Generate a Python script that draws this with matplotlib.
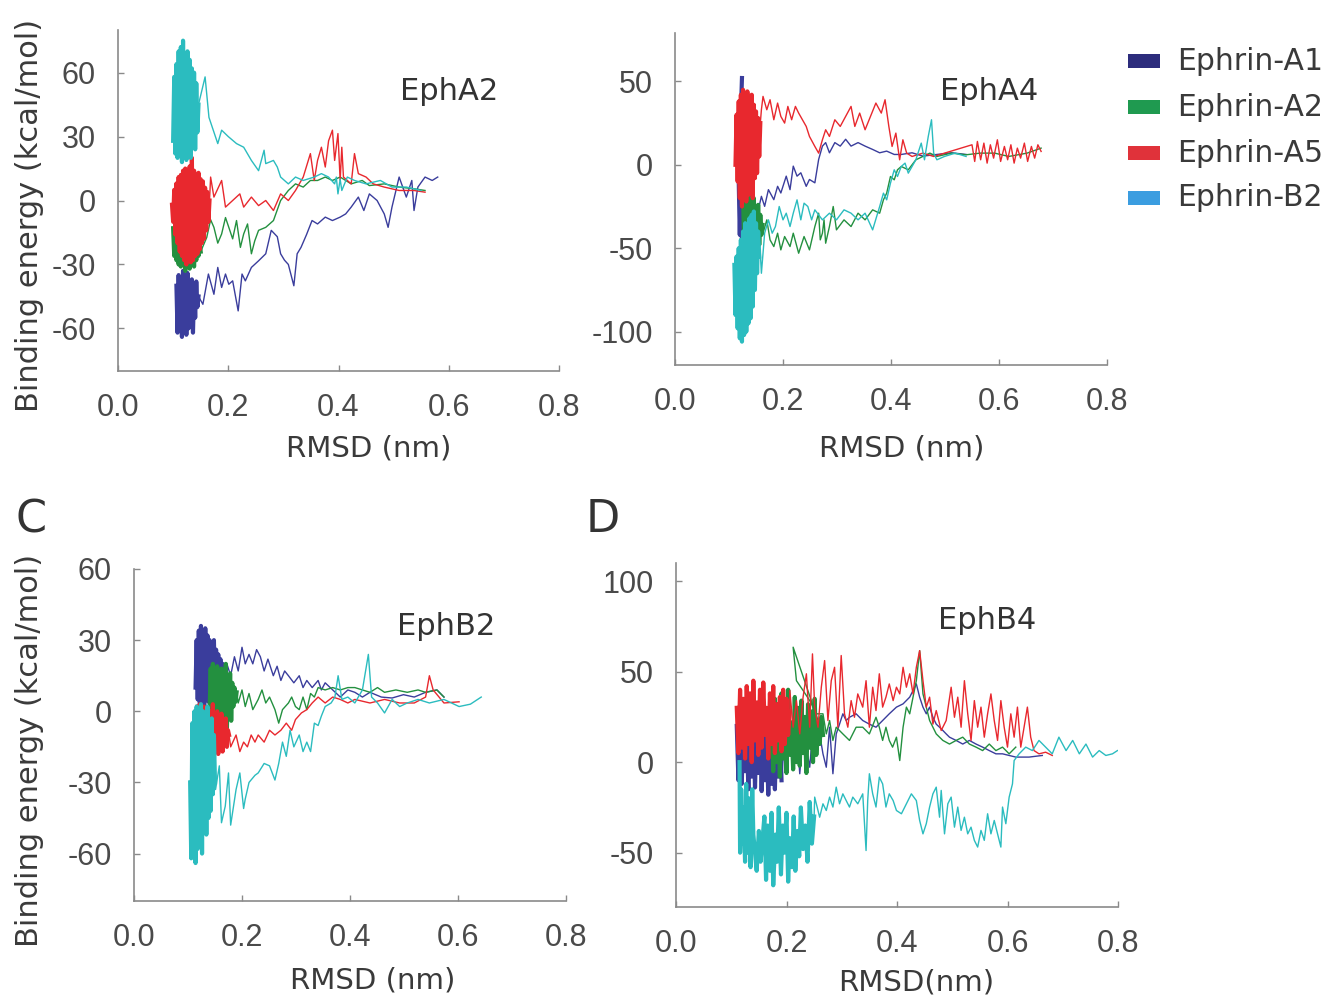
import matplotlib
matplotlib.use("Agg")
import matplotlib.pyplot as plt
from matplotlib.patches import Rectangle

plt.rcParams["font.family"] = "DejaVu Sans"
plt.rcParams["axes.unicode_minus"] = False

# ---------------- data: (RMSD nm, energy kcal/mol) ----------------
# dense early part of each run ("core") and the later trail

# EphA2
epha2_a1_core_x = [0.106, 0.108, 0.110, 0.112, 0.114, 0.116, 0.118, 0.120, 0.122, 0.124, 0.126, 0.128, 0.130, 0.132,
                   0.134, 0.136, 0.138, 0.140, 0.142, 0.144, 0.146]
epha2_a1_core_y = [-40, -62, -35, -60, -38, -64, -33, -58, -36, -63, -34, -60, -40, -57,
                   -37, -62, -42, -55, -38, -50, -45]
epha2_a1_x = [0.154, 0.164, 0.174, 0.181, 0.188, 0.195, 0.201, 0.208, 0.218, 0.225, 0.231, 0.242, 0.255, 0.268, 0.278,
              0.289, 0.295, 0.302, 0.309, 0.319, 0.325, 0.332, 0.342, 0.352, 0.362, 0.376, 0.389, 0.403, 0.413, 0.423,
              0.436, 0.446, 0.456, 0.470, 0.483, 0.490, 0.497, 0.510, 0.523, 0.533, 0.537, 0.544, 0.557, 0.570, 0.580]
epha2_a1_y = [-48.7, -34.5, -44, -31.4, -40.8, -34.5, -39.3, -37.7, -51.8, -34.5, -37.7, -31.4, -28.3, -25, -14,
              -17, -25, -28, -30, -40, -25, -22, -16, -9.4, -11, -7.8, -9.4, -7.8, -6.3, -3.1,
              1.6, -4.7, 3.1, 0, -6.3, -12.6, -3.1, 11, 1.6, 9.4, -4.7, 6.3, 11, 9.4, 11]

epha2_a2_core_x = [0.100, 0.102, 0.104, 0.106, 0.108, 0.110, 0.112, 0.114, 0.116, 0.118, 0.120, 0.122, 0.124, 0.126,
                   0.128, 0.130, 0.132, 0.134, 0.136, 0.138, 0.140, 0.142, 0.144, 0.146, 0.148, 0.150]
epha2_a2_core_y = [-13, -26, -15, -28, -12, -30, -17, -31, -14, -29, -16, -33, -13, -30,
                   -18, -32, -15, -27, -19, -31, -14, -28, -17, -26, -20, -24]
epha2_a2_x = [0.161, 0.168, 0.174, 0.181, 0.188, 0.195, 0.201, 0.208, 0.215, 0.222, 0.228, 0.235, 0.242, 0.248, 0.255,
              0.268, 0.282, 0.295, 0.309, 0.322, 0.336, 0.349, 0.362, 0.376, 0.389, 0.403, 0.423, 0.443, 0.456, 0.483,
              0.510, 0.537, 0.557]
epha2_a2_y = [-17.3, -9, -12.6, -20, -15.7, -8, -12.6, -18, -9.4, -22, -15.7, -11, -25, -19, -14,
              -12.6, -9.4, 0, 4.7, 7.8, 6.3, 9.4, 9.4, 11, 9.4, 11, 7.8, 9.4, 7, 7.8,
              6.3, 5.5, 4.7]

epha2_a5_core_x = [0.098, 0.100, 0.102, 0.104, 0.106, 0.108, 0.110, 0.112, 0.114, 0.116, 0.118, 0.120, 0.122, 0.124,
                   0.126, 0.128, 0.130, 0.132, 0.134, 0.136, 0.138, 0.140, 0.142, 0.144, 0.146, 0.148, 0.150, 0.152,
                   0.154, 0.156, 0.158, 0.160, 0.162, 0.164, 0.166]
epha2_a5_core_y = [-2, -10, 5, -16, 8, -20, 11, -24, 12, -26, 14, -28, 15, -30,
                   13, -27, 16, -29, 20, -28, 14, -26, 12, -25, 13, -23, 10, -20,
                   9, -18, 6, -14, 4, -10, 0]
epha2_a5_x = [0.168, 0.174, 0.188, 0.195, 0.208, 0.221, 0.228, 0.242, 0.255, 0.268, 0.282, 0.295, 0.309, 0.322, 0.336,
              0.349, 0.356, 0.362, 0.369, 0.376, 0.382, 0.389, 0.393, 0.399, 0.403, 0.406, 0.409, 0.423, 0.429, 0.436,
              0.450, 0.463, 0.483, 0.510, 0.537, 0.557]
epha2_a5_y = [11, 1.6, 9.4, -3.1, 0, 3.1, -3.1, 1.6, -2.4, 0, -4.7, 3.1, 0, 4.7, 11,
              22, 9.4, 18.8, 25, 15.7, 28, 33, 18.8, 31.4, 9.4, 25, 11, 7.8, 22, 12.6,
              11, 7.8, 6.3, 4.7, 4.7, 3.9]

epha2_b2_core_x = [0.100, 0.102, 0.104, 0.106, 0.108, 0.110, 0.112, 0.114, 0.116, 0.118, 0.120, 0.122, 0.124, 0.126,
                   0.128, 0.130, 0.132, 0.134, 0.136, 0.138, 0.140, 0.142, 0.144, 0.146]
epha2_b2_core_y = [28, 58, 22, 64, 20, 70, 24, 72, 18, 75, 22, 68, 19, 70,
                   25, 66, 20, 62, 28, 60, 24, 55, 32, 45]
epha2_b2_x = [0.158, 0.165, 0.181, 0.188, 0.200, 0.215, 0.228, 0.242, 0.255, 0.265, 0.268, 0.282, 0.289, 0.295, 0.309,
              0.322, 0.336, 0.356, 0.369, 0.382, 0.393, 0.396, 0.399, 0.403, 0.406, 0.416, 0.429, 0.450, 0.476, 0.497,
              0.523, 0.550]
epha2_b2_y = [58, 39, 26.7, 33, 30, 26.7, 25, 18.8, 14, 23.6, 17.3, 18.8, 15.7, 11, 7.8,
              11, 9.4, 11, 12.6, 11, 7.8, 11, 3.1, 10, 4.7, 11, 9.4, 7.8, 9.4, 6.3,
              6.3, 4.7]

# EphA4
epha4_a1_core_x = [0.124, 0.118, 0.120, 0.122, 0.124, 0.126, 0.128, 0.130, 0.132, 0.134, 0.136]
epha4_a1_core_y = [52, -10, -42, -8, -45, -12, -40, -15, -44, -20, -30]
epha4_a1_x = [0.153, 0.160, 0.166, 0.173, 0.183, 0.190, 0.196, 0.206, 0.213, 0.219, 0.226, 0.233, 0.243, 0.249, 0.259,
              0.266, 0.273, 0.279, 0.286, 0.296, 0.306, 0.316, 0.326, 0.339, 0.352, 0.366, 0.379, 0.392, 0.406, 0.419,
              0.439, 0.459, 0.485, 0.512, 0.539]
epha4_a1_y = [-28.9, -18.9, -24.9, -14.9, -20.9, -12.9, -16.9, -6.8, -14.9, -0.8, -6.8, -4.8, -12.9, -8.8, -10.8,
              3.2, 11.2, 13.3, 7.2, 13.3, 11.2, 15.3, 11.2, 13.3, 11.2, 9.2, 7.2, 8.2, 6.2, 6.2,
              7.2, 5.2, 6.2, 7.2, 6.2]

epha4_a2_core_x = [0.126, 0.128, 0.130, 0.132, 0.134, 0.136, 0.138, 0.140, 0.142, 0.144, 0.146, 0.148, 0.150, 0.152,
                   0.154, 0.156, 0.158, 0.160, 0.162]
epha4_a2_core_y = [-18, -48, -15, -52, -22, -55, -16, -50, -25, -54, -20, -45, -28, -52,
                   -24, -48, -30, -42, -36]
epha4_a2_x = [0.163, 0.170, 0.176, 0.183, 0.190, 0.196, 0.203, 0.213, 0.219, 0.229, 0.239, 0.249, 0.259, 0.266, 0.269,
              0.273, 0.276, 0.279, 0.286, 0.293, 0.299, 0.313, 0.326, 0.339, 0.352, 0.366, 0.379, 0.386, 0.392, 0.399,
              0.406, 0.412, 0.419, 0.432, 0.446, 0.459, 0.472, 0.485, 0.512, 0.539, 0.565, 0.592, 0.618, 0.652, 0.678]
epha4_a2_y = [-41, -33, -45, -49, -41, -51, -43, -49, -41, -53, -43, -51, -37, -29, -45,
              -41, -33, -47, -37, -25, -39, -33, -37, -29, -33, -27, -29, -21, -17, -7,
              -9, -3, -1, -3, 3, 5, 7, 5, 7, 6, 7, 7, 5, 7, 10]

epha4_a5_core_x = [0.112, 0.114, 0.116, 0.118, 0.120, 0.122, 0.124, 0.126, 0.128, 0.130, 0.132, 0.134, 0.136, 0.138,
                   0.140, 0.142, 0.144, 0.146, 0.148, 0.150, 0.152, 0.154, 0.156, 0.158]
epha4_a5_core_y = [0, 30, -10, 38, -20, 42, -25, 45, -15, 40, -22, 44, -18, 38,
                   -12, 42, -20, 36, -8, 32, -5, 28, 5, 25]
epha4_a5_x = [0.160, 0.163, 0.170, 0.176, 0.183, 0.190, 0.196, 0.203, 0.209, 0.216, 0.223, 0.229, 0.236, 0.243, 0.249,
              0.259, 0.266, 0.273, 0.279, 0.286, 0.296, 0.306, 0.316, 0.326, 0.333, 0.342, 0.352, 0.362, 0.372, 0.382,
              0.389, 0.396, 0.402, 0.409, 0.416, 0.422, 0.429, 0.439, 0.459, 0.479,
              0.550, 0.555, 0.560, 0.566, 0.572, 0.578, 0.584, 0.590, 0.597, 0.603, 0.610, 0.616, 0.622, 0.628, 0.634,
              0.640, 0.647, 0.653, 0.660, 0.666, 0.672, 0.678]
epha4_a5_y = [33, 41, 33, 39, 27, 37, 29, 25, 35, 27, 35, 31, 27, 23, 17,
              11, 7, 15, 21, 17, 27, 23, 29, 35, 23, 31, 21, 29, 37, 31,
              39, 23, 11, 19, 3, 15, 7, 5, 7, 5,
              12, 2, 14, 3, 13, 1, 12, 4, 15, 2, 11, 3, 12, 1, 10,
              4, 13, 2, 11, 4, 12, 8]

epha4_b2_core_x = [0.110, 0.112, 0.114, 0.116, 0.118, 0.120, 0.122, 0.124, 0.126, 0.128, 0.130, 0.132, 0.134, 0.136,
                   0.138, 0.140, 0.142, 0.144, 0.146, 0.148, 0.150, 0.152, 0.154, 0.156]
epha4_b2_core_y = [-60, -90, -55, -98, -50, -104, -45, -106, -40, -102, -35, -100, -38, -95,
                   -32, -92, -30, -85, -28, -75, -35, -65, -40, -55]
epha4_b2_x = [0.158, 0.160, 0.166, 0.173, 0.180, 0.186, 0.193, 0.200, 0.206, 0.213, 0.219, 0.226, 0.233, 0.239, 0.246,
              0.253, 0.259, 0.273, 0.286, 0.299, 0.313, 0.326, 0.339, 0.352, 0.366, 0.379, 0.386, 0.392, 0.399, 0.406,
              0.412, 0.419, 0.426, 0.432, 0.446, 0.456, 0.462, 0.469, 0.475, 0.479, 0.485, 0.499, 0.519, 0.539]
epha4_b2_y = [-53, -65, -41, -33, -41, -37, -25, -33, -29, -37, -29, -21, -33, -23, -25,
              -33, -27, -33, -29, -33, -27, -29, -33, -29, -39, -25, -17, -21, -11, -3,
              -7, -1, 1, -5, 3, 13, 3, 17, 27, 7, 3, 5, 7, 5]

# EphB2
ephb2_a1_core_x = [0.114, 0.116, 0.118, 0.120, 0.122, 0.124, 0.126, 0.128, 0.130, 0.132, 0.134, 0.136, 0.138, 0.140,
                   0.142, 0.144, 0.146, 0.148, 0.150, 0.152, 0.154, 0.156, 0.158, 0.160, 0.162, 0.164, 0.166, 0.168]
ephb2_a1_core_y = [10, 30, 5, 34, 3, 36, 6, 33, 2, 35, 8, 32, 4, 30,
                   10, 28, 5, 30, 8, 26, 6, 24, 12, 22, 10, 20, 14, 18]
ephb2_a1_x = [0.172, 0.179, 0.186, 0.193, 0.200, 0.206, 0.213, 0.220, 0.227, 0.234, 0.241, 0.248, 0.258, 0.265, 0.272,
              0.279, 0.286, 0.296, 0.306, 0.313, 0.320, 0.330, 0.341, 0.347, 0.354, 0.368, 0.382, 0.396, 0.409, 0.423,
              0.437, 0.458, 0.478, 0.499, 0.519, 0.540, 0.561, 0.574]
ephb2_a1_y = [20, 15, 23, 17, 27, 20, 24, 20, 26, 23, 17, 22, 15, 19, 13,
              17, 15, 12, 15, 10, 13, 10, 13, 9, 12, 9, 6, 9, 8, 6,
              8, 6, 5.6, 7, 6, 8, 9, 6]

ephb2_a2_core_x = [0.140, 0.142, 0.144, 0.146, 0.148, 0.150, 0.152, 0.154, 0.156, 0.158, 0.160, 0.162, 0.164, 0.166,
                   0.168, 0.170, 0.172, 0.174, 0.176, 0.178, 0.180, 0.182, 0.184, 0.186, 0.188, 0.190]
ephb2_a2_core_y = [0, 18, -5, 20, -8, 16, -6, 19, -10, 15, -4, 18, -9, 14,
                   -2, 20, -8, 12, 0, 16, -4, 12, 2, 10, 4, 8]
ephb2_a2_x = [0.193, 0.200, 0.206, 0.213, 0.220, 0.230, 0.237, 0.244, 0.251, 0.261, 0.268, 0.275, 0.286, 0.292, 0.299,
              0.306, 0.313, 0.320, 0.327, 0.334, 0.341, 0.354, 0.368, 0.382, 0.396, 0.409, 0.423, 0.437, 0.451, 0.464,
              0.485, 0.506, 0.526, 0.540, 0.561, 0.574]
ephb2_a2_y = [3.5, 9, 2, 7.5, 0.7, 5, 9, 3.5, 6, 0.7, -5, 0.7, 3.5, 6, 2,
              0.7, 6, 0.7, 7.5, 6, 10, 9, 10, 9, 10, 10, 9, 8, 10, 8,
              9, 8, 9, 8, 9, 6]

ephb2_a5_core_x = [0.118, 0.120, 0.122, 0.124, 0.126, 0.128, 0.130, 0.132, 0.134, 0.136, 0.138, 0.140, 0.142, 0.144,
                   0.146, 0.148, 0.150, 0.152, 0.154, 0.156, 0.158, 0.160, 0.162, 0.164, 0.166, 0.168, 0.170, 0.172,
                   0.174, 0.176]
ephb2_a5_core_y = [2, -12, 3, -16, 0, -18, 2, -20, 1, -17, -2, -19, 0, -18,
                   3, -20, -2, -16, 0, -18, -4, -15, -1, -17, -5, -14, -3, -15,
                   -8, -10]
ephb2_a5_x = [0.179, 0.189, 0.196, 0.203, 0.210, 0.217, 0.224, 0.230, 0.241, 0.251, 0.261, 0.272, 0.282, 0.292, 0.299,
              0.310, 0.320, 0.330, 0.341, 0.354, 0.368, 0.382, 0.396, 0.409, 0.437, 0.464, 0.492, 0.519, 0.540, 0.547,
              0.554, 0.574, 0.602]
ephb2_a5_y = [-15, -10, -17, -13, -15, -10, -13, -10, -13, -8, -10, -8, -5, -8, -3.5,
              -0.7, 0.7, 3.5, 6, 3.5, 6, 5, 3.5, 5, 3.5, 5, 3.5, 3.5, 6, 15,
              9, 3.5, 4]

ephb2_b2_core_x = [0.104, 0.106, 0.108, 0.110, 0.112, 0.114, 0.116, 0.118, 0.120, 0.122, 0.124, 0.126, 0.128, 0.130,
                   0.132, 0.134, 0.136, 0.138, 0.140, 0.142, 0.144, 0.146, 0.148, 0.150]
ephb2_b2_core_y = [-30, -62, -5, -60, 0, -64, 2, -58, -2, -55, 3, -60, 0, -50,
                   -5, -52, 2, -45, -8, -42, -3, -35, -10, -30]
ephb2_b2_x = [0.151, 0.158, 0.162, 0.169, 0.175, 0.179, 0.189, 0.196, 0.203, 0.206, 0.213, 0.224, 0.230, 0.241, 0.251,
              0.261, 0.268, 0.275, 0.282, 0.289, 0.296, 0.306, 0.313, 0.320, 0.327, 0.334, 0.341, 0.347, 0.354, 0.365,
              0.372, 0.378, 0.385, 0.396, 0.409, 0.423, 0.434, 0.440, 0.451, 0.464, 0.478, 0.492, 0.506, 0.526, 0.547,
              0.574, 0.602, 0.623, 0.643]
ephb2_b2_y = [-33, -23, -47, -40, -26, -48, -33, -26, -41, -37, -30, -27, -26, -22, -23,
              -29, -22, -13, -19, -8, -15, -10, -17, -13, -17, -5, -6, -2, 2, 3.5,
              6, 15, 5, 6, 3.5, 9, 24, 6, 3.5, -0.7, 5, 2, 3.5, 5, 3.5,
              5, 2, 3, 6]

# EphB4
ephb4_a1_core_x = [0.110, 0.113, 0.116, 0.119, 0.122, 0.125, 0.128, 0.131, 0.134, 0.137, 0.140, 0.143, 0.146, 0.149,
                   0.152, 0.155, 0.158, 0.161, 0.164, 0.167, 0.170, 0.173, 0.176, 0.179, 0.182, 0.185, 0.188, 0.191]
ephb4_a1_core_y = [20, -10, 15, -12, 22, -5, 18, -15, 24, -8, 25, -14, 20, -6,
                   22, -16, 18, -10, 16, -18, 14, -12, 20, -15, 22, -8, 16, -10]
ephb4_a1_x = [0.200, 0.206, 0.212, 0.218, 0.224, 0.230, 0.236, 0.242, 0.248, 0.254, 0.260, 0.266, 0.272, 0.278, 0.284,
              0.290, 0.296, 0.302, 0.308, 0.314, 0.326, 0.338, 0.350, 0.362, 0.374, 0.386, 0.399, 0.411, 0.423, 0.435,
              0.441, 0.447, 0.453, 0.459, 0.465, 0.471, 0.477, 0.483, 0.489, 0.495, 0.507, 0.519, 0.531, 0.543, 0.555,
              0.567, 0.579, 0.591, 0.603, 0.615, 0.639, 0.663]
ephb4_a1_y = [26.7, 12, 4.6, 19.3, -6.4, 15.6, 8.3, -2.8, 19.3, 8.3, 15.6, 4.6, -2.8, 19.3, -6.4,
              15.6, 21, 26.7, 23, 24.8, 26.7, 23, 21, 19.3, 23, 26.7, 30.4, 32.2, 35.9, 43.2,
              35.9, 30.4, 26.7, 30.4, 24.8, 21, 19.3, 17.5, 15.6, 13.8, 12, 10, 12, 10, 8.3,
              6.4, 4.6, 4.6, 3.7, 2.8, 2.8, 3.7]

ephb4_a2_core_x = [0.170, 0.173, 0.176, 0.179, 0.182, 0.185, 0.188, 0.191, 0.194, 0.197, 0.200, 0.203, 0.206, 0.209,
                   0.212, 0.215, 0.218, 0.221, 0.224, 0.227, 0.230, 0.233, 0.236, 0.239, 0.242, 0.245, 0.248, 0.251,
                   0.254, 0.257, 0.260, 0.263, 0.266]
ephb4_a2_core_y = [5, 30, -5, 35, 0, 25, -8, 38, 2, 28, -6, 40, 4, 22,
                   -4, 36, 0, 30, -2, 34, 5, 25, -6, 32, 8, 28, 0, 35,
                   4, 20, 10, 25, 15]
ephb4_a2_x = [0.212, 0.218, 0.230, 0.242, 0.254, 0.266, 0.272, 0.278, 0.284, 0.290, 0.302, 0.314, 0.326, 0.338, 0.350,
              0.362, 0.368, 0.374, 0.380, 0.386, 0.392, 0.399, 0.405, 0.411, 0.417, 0.423, 0.429, 0.435, 0.441, 0.447,
              0.453, 0.459, 0.471, 0.483, 0.495, 0.507, 0.519, 0.531, 0.543, 0.555, 0.567, 0.579, 0.591, 0.603, 0.615]
ephb4_a2_y = [63.5, 45, 39.6, 34, 26.7, 26.7, 15.6, 23, 12, 19.3, 15.6, 12, 19.3, 19.3, 15.6,
              24.8, 19.3, 12, 19.3, 12, 8.3, 13.8, 0.9, 19.3, 30.4, 26.7, 35.9, 45, 61.6, 37.7,
              30.4, 23, 15.6, 12, 10, 12, 13.8, 10, 8.3, 6.4, 10, 6.4, 8.3, 4.6, 8.3]

ephb4_a5_core_x = [0.110, 0.113, 0.116, 0.119, 0.122, 0.125, 0.128, 0.131, 0.134, 0.137, 0.140, 0.143, 0.146, 0.149,
                   0.152, 0.155, 0.158, 0.161, 0.164, 0.167, 0.170, 0.173, 0.176, 0.179, 0.182, 0.185, 0.188, 0.191,
                   0.194, 0.197, 0.200, 0.203, 0.206]
ephb4_a5_core_y = [30, 5, 40, 8, 35, 2, 42, 10, 38, 0, 45, 12, 33, 4,
                   40, 8, 44, 15, 30, 2, 38, 10, 42, 5, 32, 12, 36, 6,
                   40, 10, 35, 15, 28]
ephb4_a5_x = [0.206, 0.212, 0.218, 0.224, 0.230, 0.236, 0.242, 0.247, 0.251, 0.257, 0.263, 0.269, 0.275, 0.281, 0.287,
              0.293, 0.299, 0.305, 0.311, 0.317, 0.323, 0.329, 0.338, 0.344, 0.350, 0.356, 0.362, 0.368, 0.374, 0.380,
              0.386, 0.393, 0.399, 0.405, 0.411, 0.417, 0.423, 0.429, 0.435, 0.441, 0.447, 0.453, 0.459, 0.465, 0.471,
              0.480, 0.489, 0.498, 0.504, 0.510, 0.516, 0.522, 0.528, 0.534, 0.540, 0.546, 0.552, 0.558, 0.564, 0.570,
              0.576, 0.582, 0.588, 0.594, 0.600, 0.606, 0.612, 0.618, 0.624, 0.630, 0.636, 0.642, 0.648, 0.657, 0.669,
              0.681]
ephb4_a5_y = [39.6, 19.3, 34, 15.6, 35.9, 48.8, 19.3, 59.8, 30.4, 19.3, 41.4, 56.1, 23, 45, 52.4,
              19.3, 58.9, 26.7, 19.3, 34, 24.8, 37.7, 30.4, 45, 19.3, 41.4, 28.5, 48.8, 30.4, 35.9,
              43.2, 34, 41.4, 37.7, 52.4, 41.4, 48.8, 37.7, 52.4, 61.6, 45, 30.4, 35.9, 21, 28.5,
              17.5, 23, 41.4, 24.8, 35.9, 19.3, 45, 26.7, 12, 34, 19.3, 30.4, 13.8, 26.7, 37.7,
              23, 12, 34, 19.3, 8.3, 26.7, 13.8, 30.4, 8.3, 19.3, 30.4, 13.8, 6.4, 4.6, 5.5,
              3.7]

ephb4_b2_core_x = [0.115, 0.116, 0.118, 0.120, 0.122, 0.125, 0.127, 0.130, 0.132, 0.135, 0.138, 0.140, 0.143, 0.146,
                   0.150, 0.153, 0.156, 0.160, 0.163, 0.166, 0.170, 0.173, 0.176, 0.180, 0.183, 0.186, 0.190, 0.193,
                   0.196, 0.200, 0.203, 0.206, 0.210, 0.213, 0.216, 0.220, 0.223, 0.226, 0.230, 0.234, 0.238, 0.242,
                   0.246, 0.250]
ephb4_b2_core_y = [0, -50, -15, -45, -25, -55, -12, -50, -20, -58, -15, -40, -50, -60,
                   -38, -55, -45, -30, -65, -35, -60, -28, -68, -40, -55, -25, -62, -35,
                   -50, -28, -66, -42, -58, -30, -60, -38, -52, -25, -48, -35, -55, -22,
                   -45, -30]
ephb4_b2_x = [0.251, 0.260, 0.266, 0.272, 0.278, 0.284, 0.290, 0.296, 0.302, 0.308, 0.314, 0.320, 0.329, 0.338, 0.344,
              0.347, 0.350, 0.356, 0.362, 0.368, 0.374, 0.380, 0.386, 0.393, 0.399, 0.408, 0.417, 0.426, 0.435, 0.441,
              0.447, 0.453, 0.459, 0.465, 0.471, 0.477, 0.480, 0.486, 0.492, 0.498, 0.504, 0.510, 0.516, 0.522, 0.528,
              0.534, 0.540, 0.546, 0.552, 0.558, 0.564, 0.570, 0.576, 0.582, 0.588, 0.591, 0.597, 0.603, 0.609, 0.612,
              0.621, 0.633, 0.645, 0.657, 0.669, 0.681, 0.693, 0.706, 0.718, 0.730, 0.742, 0.754, 0.766, 0.778, 0.790,
              0.799]
ephb4_b2_y = [-19.3, -30.4, -23, -26.7, -19.3, -24.8, -13.8, -23, -17.5, -21.2, -24.8, -19.3, -23, -17.5, -48.8,
              -21.2, -6.4, -17.5, -24.8, -8.3, -12, -24.8, -17.5, -21.2, -26.7, -28.5, -23, -17.5, -21.2, -32.2,
              -39.6, -34, -24.8, -17.5, -13.8, -30.4, -15.6, -39.6, -23, -19.3, -35.9, -24.8, -37.7, -30.4, -39.6,
              -35.9, -43.2, -46.9, -37.7, -43.2, -28.5, -39.6, -32.2, -39.6, -46.9, -24.8, -34, -19.3, -12, 0.9,
              4.6, 8.3, 6.4, 12, 8.3, 4.6, 13.8, 6.4, 12, 4.6, 10, 2.8, 6.4, 3.7, 4.6,
              6.4]

names = ["Ephrin-A1", "Ephrin-A2", "Ephrin-A5", "Ephrin-B2"]
line_colors = ["#3a3d9c", "#23903f", "#e8282e", "#2bbcbf"]
legend_colors = ["#2c2c7c", "#1f9a50", "#e0323a", "#3b9de0"]

xticks = [0.0, 0.2, 0.4, 0.6, 0.8]
xticklabels = ["0.0", "0.2", "0.4", "0.6", "0.8"]

W, H = 1341, 1001
fig = plt.figure(figsize=(W / 100, H / 100), dpi=100)


def px_rect(left, top, right, bottom):
    return [left / W, 1 - bottom / H, (right - left) / W, (bottom - top) / H]


def panel(rect, series, ylim, yticks, title, title_pos):
    ax = fig.add_axes(rect)
    for (cx, cy, tx, ty), c in zip(series, line_colors):
        ax.plot(cx, cy, color=c, lw=3.0, solid_joinstyle="round")
        ax.plot([cx[-1]] + tx, [cy[-1]] + ty, color=c, lw=1.0)
    ax.set_xlim(0, 0.8)
    ax.set_ylim(*ylim)
    ax.set_xticks(xticks)
    ax.set_xticklabels(xticklabels)
    ax.set_yticks(yticks)
    ax.set_yticklabels([str(v) for v in yticks])
    for s in ["top", "right"]:
        ax.spines[s].set_visible(False)
    for s in ["left", "bottom"]:
        ax.spines[s].set_color("#8a8a8a")
        ax.spines[s].set_linewidth(1.2)
    ax.tick_params(direction="in", length=4, width=1, color="#8a8a8a",
                   labelcolor="#4a4a4a", pad=16)
    for lab in ax.get_xticklabels() + ax.get_yticklabels():
        lab.set_fontfamily("Liberation Sans")
        lab.set_fontsize(22)
    ax.text(title_pos[0], title_pos[1], title, fontsize=22, color="#333333",
            ha="center", va="center")
    return ax


panel(px_rect(118, 30, 559, 371),
      [(epha2_a1_core_x, epha2_a1_core_y, epha2_a1_x, epha2_a1_y),
       (epha2_a2_core_x, epha2_a2_core_y, epha2_a2_x, epha2_a2_y),
       (epha2_a5_core_x, epha2_a5_core_y, epha2_a5_x, epha2_a5_y),
       (epha2_b2_core_x, epha2_b2_core_y, epha2_b2_x, epha2_b2_y)],
      (-80, 80), [-60, -30, 0, 30, 60], "EphA2", (0.6, 51))

panel(px_rect(675, 33, 1107, 365),
      [(epha4_a1_core_x, epha4_a1_core_y, epha4_a1_x, epha4_a1_y),
       (epha4_a2_core_x, epha4_a2_core_y, epha4_a2_x, epha4_a2_y),
       (epha4_a5_core_x, epha4_a5_core_y, epha4_a5_x, epha4_a5_y),
       (epha4_b2_core_x, epha4_b2_core_y, epha4_b2_x, epha4_b2_y)],
      (-120, 79), [-100, -50, 0, 50], "EphA4", (0.582, 44))

panel(px_rect(134, 569, 566, 901),
      [(ephb2_a1_core_x, ephb2_a1_core_y, ephb2_a1_x, ephb2_a1_y),
       (ephb2_a2_core_x, ephb2_a2_core_y, ephb2_a2_x, ephb2_a2_y),
       (ephb2_a5_core_x, ephb2_a5_core_y, ephb2_a5_x, ephb2_a5_y),
       (ephb2_b2_core_x, ephb2_b2_core_y, ephb2_b2_x, ephb2_b2_y)],
      (-80, 60), [-60, -30, 0, 30, 60], "EphB2", (0.578, 35.6))

panel(px_rect(676, 563, 1118, 907),
      [(ephb4_a1_core_x, ephb4_a1_core_y, ephb4_a1_x, ephb4_a1_y),
       (ephb4_a2_core_x, ephb4_a2_core_y, ephb4_a2_x, ephb4_a2_y),
       (ephb4_a5_core_x, ephb4_a5_core_y, ephb4_a5_x, ephb4_a5_y),
       (ephb4_b2_core_x, ephb4_b2_core_y, ephb4_b2_x, ephb4_b2_y)],
      (-80, 110), [-50, 0, 50, 100], "EphB4", (0.564, 78))

# axis labels (placed in figure pixels)
lab_kw = dict(color="#3a3a3a", ha="center", va="center")
fig.text(369 / W, 1 - 449 / H, "RMSD (nm)", fontsize=21, **lab_kw)
fig.text(902 / W, 1 - 449 / H, "RMSD (nm)", fontsize=21, **lab_kw)
fig.text(373 / W, 1 - 980 / H, "RMSD (nm)", fontsize=21, **lab_kw)
fig.text(916 / W, 1 - 982 / H, "RMSD(nm)", fontsize=21, **lab_kw)
fig.text(30 / W, 1 - 215 / H, "Binding energy (kcal/mol)", fontsize=22, rotation=90, **lab_kw)
fig.text(30 / W, 1 - 750 / H, "Binding energy (kcal/mol)", fontsize=22, rotation=90, **lab_kw)

# panel letters
fig.text(31 / W, 1 - 520 / H, "C", fontsize=32, color="#333333", ha="center", va="center")
fig.text(603 / W, 1 - 520 / H, "D", fontsize=32, color="#333333", ha="center", va="center")

# legend
legend_rows = [61, 107, 153, 198]
for name, col, yc in zip(names, legend_colors, legend_rows):
    fig.patches.append(Rectangle((1128 / W, 1 - (yc + 7) / H), 32 / W, 14 / H,
                                 transform=fig.transFigure, facecolor=col, edgecolor="none"))
    fig.text(1177 / W, 1 - yc / H, name, fontsize=21.5, color="#3a3a3a", ha="left", va="center")

fig.savefig("out.png", dpi=100, facecolor="white")
